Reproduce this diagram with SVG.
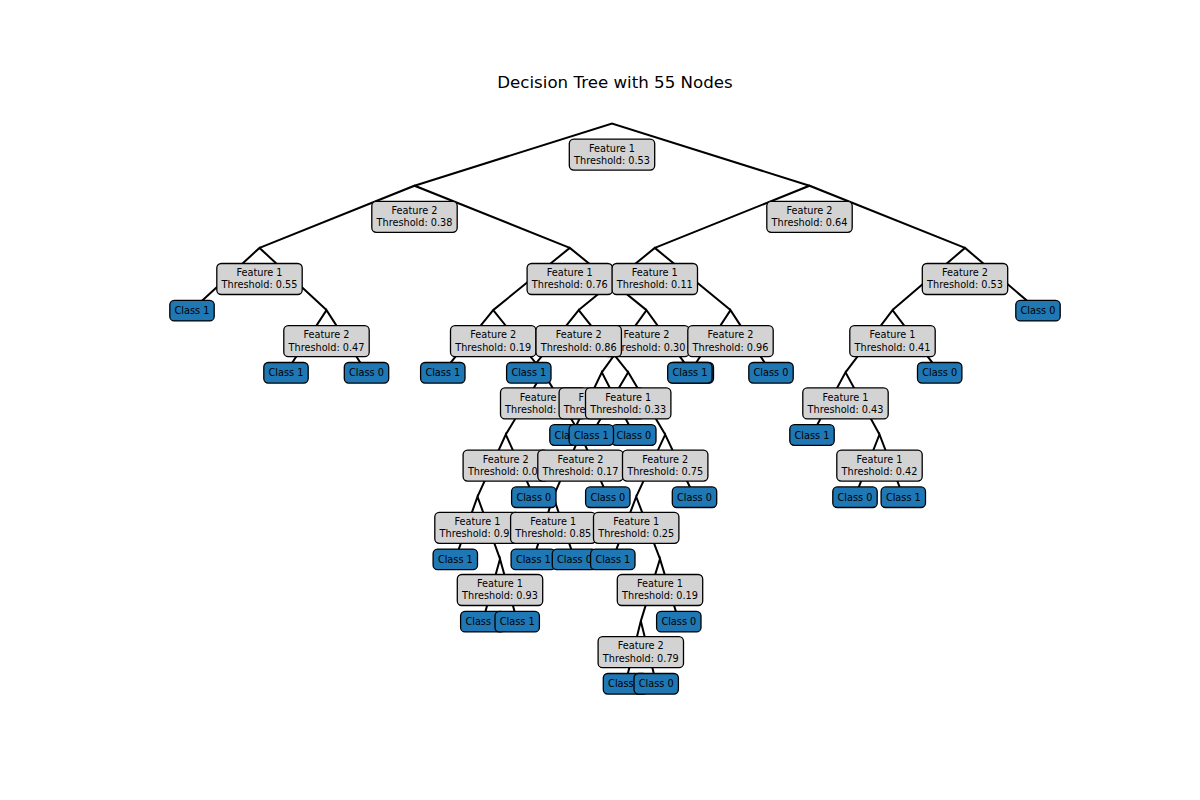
<svg xmlns="http://www.w3.org/2000/svg" width="1200" height="800" viewBox="0 0 1200 800">
<style>
.e{fill:none;stroke:#000;stroke-width:2;stroke-linejoin:miter}
.n rect{fill:#d3d3d3;stroke:#000;stroke-width:1.3}
.l rect{fill:#1f77b4;stroke:#000;stroke-width:1.3}
text{font-family:"DejaVu Sans","Liberation Sans",sans-serif;font-size:9.72px;text-anchor:middle;fill:#000}
text.s{text-anchor:start}
text.t{font-size:16.67px}
</style>
<rect width="1200" height="800" fill="#fff"/>
<text class="t" x="615" y="88">Decision Tree with 55 Nodes</text>
<g id="edges">
<path class="e" d="M414.5 185.7L612 123.5L809.5 185.7"/>
<path class="e" d="M259.5 247.9L414.5 185.7L569.8 247.9"/>
<path class="e" d="M192 310.1L259.5 247.9L326.5 310.1"/>
<path class="e" d="M286 372.3L326.5 310.1L366.5 372.3"/>
<path class="e" d="M493.2 310.1L569.8 247.9L646.5 310.1"/>
<path class="e" d="M442.8 372.3L493.2 310.1L543.2 372.3"/>
<path class="e" d="M505.8 434.5L543.2 372.3L580.5 434.5"/>
<path class="e" d="M477.5 496.7L505.8 434.5L533.8 496.7"/>
<path class="e" d="M455.3 558.9L477.5 496.7L500 558.9"/>
<path class="e" d="M482.8 621.1L500 558.9L517.2 621.1"/>
<path class="e" d="M553.3 496.7L580.5 434.5L607.8 496.7"/>
<path class="e" d="M533.3 558.9L553.3 496.7L574.5 558.9"/>
<path class="e" d="M601.8 372.3L646.5 310.1L691.3 372.3"/>
<path class="e" d="M572 434.5L601.8 372.3L633.8 434.5"/>
<path class="e" d="M654.8 247.9L809.5 185.7L965 247.9"/>
<path class="e" d="M578.7 310.1L654.8 247.9L730.5 310.1"/>
<path class="e" d="M528.8 372.3L578.7 310.1L628.2 372.3"/>
<path class="e" d="M591.3 434.5L628.2 372.3L665.2 434.5"/>
<path class="e" d="M636.2 496.7L665.2 434.5L694.5 496.7"/>
<path class="e" d="M612.8 558.9L636.2 496.7L660 558.9"/>
<path class="e" d="M640.8 621.1L660 558.9L678.8 621.1"/>
<path class="e" d="M625.5 683.3L640.8 621.1L656.2 683.3"/>
<path class="e" d="M689.9 372.3L730.5 310.1L771 372.3"/>
<path class="e" d="M892.5 310.1L965 247.9L1038 310.1"/>
<path class="e" d="M845.5 372.3L892.5 310.1L939.7 372.3"/>
<path class="e" d="M812 434.5L845.5 372.3L879.5 434.5"/>
<path class="e" d="M855 496.7L879.5 434.5L903.3 496.7"/>
</g>
<g id="n0" class="n"><rect x="569.3" y="139.1" width="85.4" height="31" rx="4.5"/><text x="612" y="151.7">Feature 1</text><text x="612" y="164">Threshold: 0.53</text></g>
<g id="n1" class="n"><rect x="371.8" y="201.3" width="85.4" height="31" rx="4.5"/><text x="414.5" y="213.9">Feature 2</text><text x="414.5" y="226.2">Threshold: 0.38</text></g>
<g id="n2" class="n"><rect x="216.8" y="263.5" width="85.4" height="31" rx="4.5"/><text x="259.5" y="276.1">Feature 1</text><text x="259.5" y="288.4">Threshold: 0.55</text></g>
<g id="l0" class="l"><rect x="169.8" y="300.3" width="44.4" height="20.6" rx="4.5"/><text x="192" y="314.1">Class 1</text></g>
<g id="n3" class="n"><rect x="283.8" y="325.7" width="85.4" height="31" rx="4.5"/><text x="326.5" y="338.3">Feature 2</text><text x="326.5" y="350.6">Threshold: 0.47</text></g>
<g id="l1" class="l"><rect x="263.8" y="362.5" width="44.4" height="20.6" rx="4.5"/><text x="286" y="376.3">Class 1</text></g>
<g id="l2" class="l"><rect x="344.3" y="362.5" width="44.4" height="20.6" rx="4.5"/><text x="366.5" y="376.3">Class 0</text></g>
<g id="n4" class="n"><rect x="527.1" y="263.5" width="85.4" height="31" rx="4.5"/><text x="569.8" y="276.1">Feature 1</text><text x="569.8" y="288.4">Threshold: 0.76</text></g>
<g id="n5" class="n"><rect x="450.5" y="325.7" width="85.4" height="31" rx="4.5"/><text x="493.2" y="338.3">Feature 2</text><text x="493.2" y="350.6">Threshold: 0.19</text></g>
<g id="l3" class="l"><rect x="420.6" y="362.5" width="44.4" height="20.6" rx="4.5"/><text x="442.8" y="376.3">Class 1</text></g>
<g id="n6" class="n"><rect x="500.5" y="387.9" width="85.4" height="31" rx="4.5"/><text class="s" x="519.8" y="400.5">Feature</text><text class="s" x="505.1" y="412.8">Threshold:</text></g>
<g id="n7" class="n"><rect x="463.1" y="450.1" width="85.4" height="31" rx="4.5"/><text x="505.8" y="462.7">Feature 2</text><text class="s" x="467.9" y="475">Threshold: 0.0</text></g>
<g id="n8" class="n"><rect x="434.8" y="512.3" width="85.4" height="31" rx="4.5"/><text x="477.5" y="524.9">Feature 1</text><text class="s" x="439.6" y="537.2">Threshold: 0.9</text></g>
<g id="l4" class="l"><rect x="433.1" y="549.1" width="44.4" height="20.6" rx="4.5"/><text x="455.3" y="562.9">Class 1</text></g>
<g id="n9" class="n"><rect x="457.3" y="574.5" width="85.4" height="31" rx="4.5"/><text x="500" y="587.1">Feature 1</text><text x="500" y="599.4">Threshold: 0.93</text></g>
<g id="l5" class="l"><rect x="460.6" y="611.3" width="44.4" height="20.6" rx="4.5"/><text class="s" x="465.4" y="625.1">Class</text></g>
<g id="l6" class="l"><rect x="495" y="611.3" width="44.4" height="20.6" rx="4.5"/><text x="517.2" y="625.1">Class 1</text></g>
<g id="l7" class="l"><rect x="511.6" y="486.9" width="44.4" height="20.6" rx="4.5"/><text x="533.8" y="500.7">Class 0</text></g>
<g id="n10" class="n"><rect x="537.8" y="450.1" width="85.4" height="31" rx="4.5"/><text x="580.5" y="462.7">Feature 2</text><text x="580.5" y="475">Threshold: 0.17</text></g>
<g id="n11" class="n"><rect x="510.6" y="512.3" width="85.4" height="31" rx="4.5"/><text x="553.3" y="524.9">Feature 1</text><text x="553.3" y="537.2">Threshold: 0.85</text></g>
<g id="l8" class="l"><rect x="511.1" y="549.1" width="44.4" height="20.6" rx="4.5"/><text x="533.3" y="562.9">Class 1</text></g>
<g id="l9" class="l"><rect x="552.3" y="549.1" width="44.4" height="20.6" rx="4.5"/><text x="574.5" y="562.9">Class 0</text></g>
<g id="l10" class="l"><rect x="585.6" y="486.9" width="44.4" height="20.6" rx="4.5"/><text x="607.8" y="500.7">Class 0</text></g>
<g id="n12" class="n"><rect x="603.8" y="325.7" width="85.4" height="31" rx="4.5"/><text x="646.5" y="338.3">Feature 2</text><text class="s" x="621.6" y="350.6">reshold: 0.30</text></g>
<g id="n13" class="n"><rect x="559.1" y="387.9" width="85.4" height="31" rx="4.5"/><text class="s" x="578.4" y="400.5">F</text><text class="s" x="563.7" y="412.8">Thre</text></g>
<g id="l11" class="l"><rect x="549.8" y="424.7" width="44.4" height="20.6" rx="4.5"/><text class="s" x="554.6" y="438.5">Cla</text></g>
<g id="l12" class="l"><rect x="611.6" y="424.7" width="44.4" height="20.6" rx="4.5"/><text x="633.8" y="438.5">Class 0</text></g>
<g id="l13" class="l"><rect x="669.1" y="362.5" width="44.4" height="20.6" rx="4.5"/></g>
<g id="n14" class="n"><rect x="766.8" y="201.3" width="85.4" height="31" rx="4.5"/><text x="809.5" y="213.9">Feature 2</text><text x="809.5" y="226.2">Threshold: 0.64</text></g>
<g id="n15" class="n"><rect x="612.1" y="263.5" width="85.4" height="31" rx="4.5"/><text x="654.8" y="276.1">Feature 1</text><text x="654.8" y="288.4">Threshold: 0.11</text></g>
<g id="n16" class="n"><rect x="536" y="325.7" width="85.4" height="31" rx="4.5"/><text x="578.7" y="338.3">Feature 2</text><text x="578.7" y="350.6">Threshold: 0.86</text></g>
<g id="l14" class="l"><rect x="506.6" y="362.5" width="44.4" height="20.6" rx="4.5"/><text x="528.8" y="376.3">Class 1</text></g>
<g id="n17" class="n"><rect x="585.5" y="387.9" width="85.4" height="31" rx="4.5"/><text x="628.2" y="400.5">Feature 1</text><text x="628.2" y="412.8">Threshold: 0.33</text></g>
<g id="l15" class="l"><rect x="569.1" y="424.7" width="44.4" height="20.6" rx="4.5"/><text x="591.3" y="438.5">Class 1</text></g>
<g id="n18" class="n"><rect x="622.5" y="450.1" width="85.4" height="31" rx="4.5"/><text x="665.2" y="462.7">Feature 2</text><text x="665.2" y="475">Threshold: 0.75</text></g>
<g id="n19" class="n"><rect x="593.5" y="512.3" width="85.4" height="31" rx="4.5"/><text x="636.2" y="524.9">Feature 1</text><text x="636.2" y="537.2">Threshold: 0.25</text></g>
<g id="l16" class="l"><rect x="590.6" y="549.1" width="44.4" height="20.6" rx="4.5"/><text x="612.8" y="562.9">Class 1</text></g>
<g id="n20" class="n"><rect x="617.3" y="574.5" width="85.4" height="31" rx="4.5"/><text x="660" y="587.1">Feature 1</text><text x="660" y="599.4">Threshold: 0.19</text></g>
<g id="n21" class="n"><rect x="598.1" y="636.7" width="85.4" height="31" rx="4.5"/><text x="640.8" y="649.3">Feature 2</text><text x="640.8" y="661.6">Threshold: 0.79</text></g>
<g id="l17" class="l"><rect x="603.3" y="673.5" width="44.4" height="20.6" rx="4.5"/><text class="s" x="608.1" y="687.3">Class</text></g>
<g id="l18" class="l"><rect x="634" y="673.5" width="44.4" height="20.6" rx="4.5"/><text x="656.2" y="687.3">Class 0</text></g>
<g id="l19" class="l"><rect x="656.6" y="611.3" width="44.4" height="20.6" rx="4.5"/><text x="678.8" y="625.1">Class 0</text></g>
<g id="l20" class="l"><rect x="672.3" y="486.9" width="44.4" height="20.6" rx="4.5"/><text x="694.5" y="500.7">Class 0</text></g>
<g id="n22" class="n"><rect x="687.8" y="325.7" width="85.4" height="31" rx="4.5"/><text x="730.5" y="338.3">Feature 2</text><text x="730.5" y="350.6">Threshold: 0.96</text></g>
<g id="l21" class="l"><rect x="667.7" y="362.5" width="44.4" height="20.6" rx="4.5"/><text x="689.9" y="376.3">Class 1</text></g>
<g id="l22" class="l"><rect x="748.8" y="362.5" width="44.4" height="20.6" rx="4.5"/><text x="771" y="376.3">Class 0</text></g>
<g id="n23" class="n"><rect x="922.3" y="263.5" width="85.4" height="31" rx="4.5"/><text x="965" y="276.1">Feature 2</text><text x="965" y="288.4">Threshold: 0.53</text></g>
<g id="n24" class="n"><rect x="849.8" y="325.7" width="85.4" height="31" rx="4.5"/><text x="892.5" y="338.3">Feature 1</text><text x="892.5" y="350.6">Threshold: 0.41</text></g>
<g id="n25" class="n"><rect x="802.8" y="387.9" width="85.4" height="31" rx="4.5"/><text x="845.5" y="400.5">Feature 1</text><text x="845.5" y="412.8">Threshold: 0.43</text></g>
<g id="l23" class="l"><rect x="789.8" y="424.7" width="44.4" height="20.6" rx="4.5"/><text x="812" y="438.5">Class 1</text></g>
<g id="n26" class="n"><rect x="836.8" y="450.1" width="85.4" height="31" rx="4.5"/><text x="879.5" y="462.7">Feature 1</text><text x="879.5" y="475">Threshold: 0.42</text></g>
<g id="l24" class="l"><rect x="832.8" y="486.9" width="44.4" height="20.6" rx="4.5"/><text x="855" y="500.7">Class 0</text></g>
<g id="l25" class="l"><rect x="881.1" y="486.9" width="44.4" height="20.6" rx="4.5"/><text x="903.3" y="500.7">Class 1</text></g>
<g id="l26" class="l"><rect x="917.5" y="362.5" width="44.4" height="20.6" rx="4.5"/><text x="939.7" y="376.3">Class 0</text></g>
<g id="l27" class="l"><rect x="1015.8" y="300.3" width="44.4" height="20.6" rx="4.5"/><text x="1038" y="314.1">Class 0</text></g>
</svg>
